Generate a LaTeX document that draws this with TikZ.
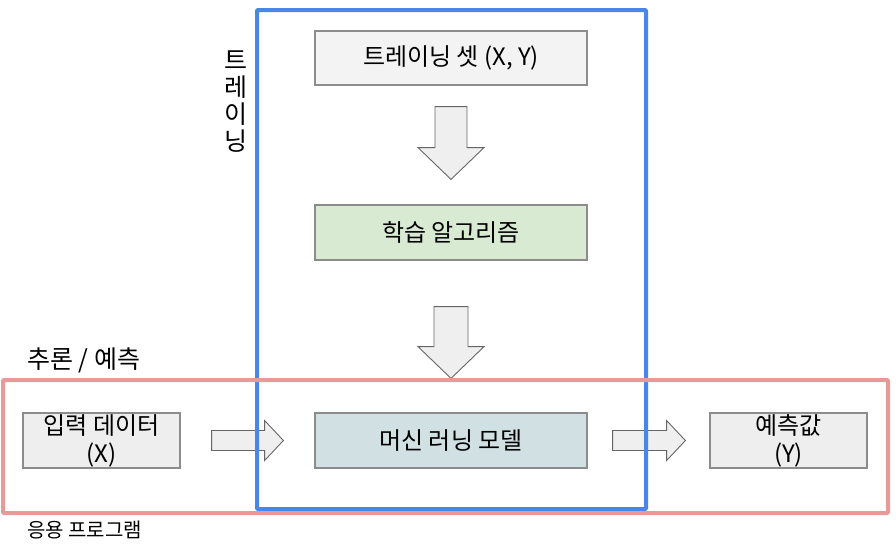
\documentclass[tikz,border=0pt]{standalone}
\usepackage{fontspec}
\setmainfont{Noto Sans CJK KR}
\usetikzlibrary{calc}
\definecolor{frameblue}{HTML}{4A86E8}
\definecolor{framepink}{HTML}{EA9999}
\definecolor{boxgray}{HTML}{F3F3F3}
\definecolor{boxlight}{HTML}{EEEEEE}
\definecolor{boxgreen}{HTML}{D9EAD3}
\definecolor{boxteal}{HTML}{D0E0E3}
\definecolor{boxline}{HTML}{8C8C8C}
\definecolor{arrowline}{HTML}{666666}
\definecolor{arrowfill}{HTML}{EFEFEF}
\tikzset{
  box/.style={draw=boxline, line width=1.2pt, minimum height=55pt, inner sep=0pt,
    font=\fontsize{24}{28}\selectfont, align=center},
  widebox/.style={box, minimum width=272pt},
  smallbox/.style={box, minimum width=157pt, fill=boxlight},
  blockarrow/.style={draw=arrowline, fill=arrowfill, line width=0.9pt, line join=miter},
  frameb/.style={draw=frameblue, line width=4pt, rounded corners=1pt},
  framep/.style={draw=framepink, line width=4pt, rounded corners=1pt},
  lbl/.style={inner sep=0pt, text=black}
}
\begin{document}
\begin{tikzpicture}[x=1pt,y=-1pt]
\useasboundingbox (0,0) rectangle (896,547);
% boxes
\node[widebox, fill=boxgray, minimum height=54pt] (ts) at (451,58) {트레이닝 셋 (X, Y)};
\node[widebox, fill=boxgreen] (alg) at (451,232.5) {학습 알고리즘};
\node[widebox, fill=boxteal] (mdl) at (451,440.5) {머신 러닝 모델};
\node[smallbox] (inp) at (101.5,440.5) {입력 데이터\\(X)};
\node[smallbox] (out) at (788.5,440.5) {예측값\\(Y)};
% block arrows (down)
\draw[blockarrow] ($(ts.south)+(-16,21)$) -- ++(32,0) -- ++(0,41) -- ++(17,0)
  -- ($(alg.north)+(0,-25)$) -- ($(ts.south)+(-33,62)$) -- ++(17,0) -- cycle;
\draw[blockarrow] ($(alg.south)+(-17,46)$) -- ++(34,0) -- ++(0,40) -- ++(16,0)
  -- ($(mdl.north)+(0,-34)$) -- ($(alg.south)+(-33,86)$) -- ++(16,0) -- cycle;
% block arrows (right)
\draw[blockarrow] ($(inp.east)+(31,-10)$) -- ++(53,0) -- ++(0,-10)
  -- ($(mdl.west)+(-31,0)$) -- ($(inp.east)+(84,20)$) -- ++(0,-10) -- ++(-53,0) -- cycle;
\draw[blockarrow] ($(mdl.east)+(25,-10)$) -- ++(54,0) -- ++(0,-10)
  -- ($(out.west)+(-24,0)$) -- ($(mdl.east)+(79,20)$) -- ++(0,-10) -- ++(-54,0) -- cycle;
% frames
\draw[frameb] (257,10) rectangle (646,509);
\draw[framep] (3,380) rectangle (888,513);
% labels
\node[lbl, align=center, font=\fontsize{25}{27}\selectfont] (trn) at (236,102) {트\\레\\이\\닝};
\node[lbl, anchor=west, font=\fontsize{25}{28}\selectfont] (inf) at (27,360) {추론 / 예측};
\node[lbl, anchor=west, font=\fontsize{20}{22}\selectfont] (app) at (27,530) {응용 프로그램};
\end{tikzpicture}
\end{document}
